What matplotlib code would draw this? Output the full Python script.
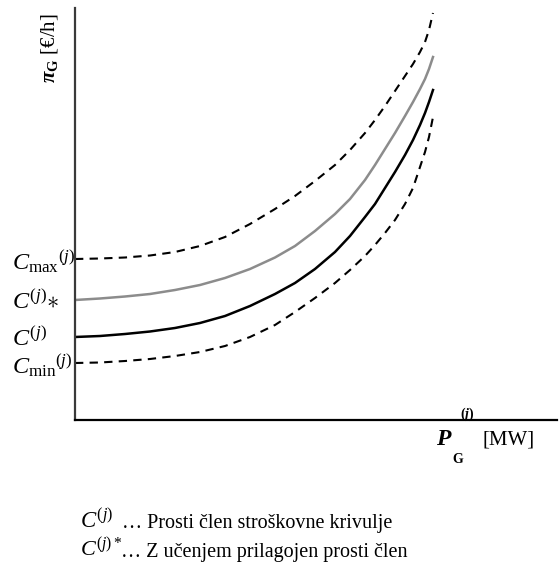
import matplotlib
matplotlib.use("Agg")
import matplotlib.pyplot as plt

plt.rcParams['font.family'] = ['Liberation Serif', 'DejaVu Serif']
plt.rcParams['mathtext.fontset'] = 'custom'
plt.rcParams['mathtext.rm'] = 'Liberation Serif'
plt.rcParams['mathtext.it'] = 'Liberation Serif:italic'
plt.rcParams['mathtext.bf'] = 'Liberation Serif:bold'
plt.rcParams['mathtext.bfit'] = 'Liberation Serif:bold:italic'

# moc (relativne enote) in stroski, odcitano s slike
moc = [0, 25, 50, 75, 100, 125, 150, 175, 200, 220, 240, 260, 275, 290,
       300, 310, 320, 330, 338, 345, 350, 354, 358]
c_max = [161, 161.5, 162.5, 164.5, 168, 174, 183, 196, 211, 224, 239, 255, 270, 287,
         300, 314, 329, 344, 356, 368, 378, 390, 407]
c_zvezda = [120, 121.5, 123.5, 126, 130, 135, 142, 151, 162.5, 174, 189, 206, 221, 240,
            255, 271, 287, 304, 318, 331, 341, 351, 363]
c_osnovni = [83, 84, 86, 88.5, 92, 97, 104, 114, 126, 137, 151, 168, 184, 203,
             216, 232, 248, 265, 280, 295, 307, 318, 330]
c_min = [57, 57.5, 59, 61, 64, 68, 74, 83, 95, 108, 122, 137, 150, 164,
         175, 187, 200, 216, 232, 253, 268, 283, 303]

oznake_y = [r'$C_{\mathrm{max}}{}^{(j)}$', r'$C^{(j)}\!\ast$', r'$C^{(j)}$', r'$C_{\mathrm{min}}{}^{(j)}$']
vrednosti_y = [c_max[0], c_zvezda[0], c_osnovni[0], c_min[0]]

fig = plt.figure(figsize=(5.6, 5.62), dpi=100)
ax = fig.add_axes([75/560, 142/562, 482/560, 412/562])

ax.plot(moc, c_max, color='black', lw=1.5, dashes=(4, 3))
ax.plot(moc, c_zvezda, color='#8c8c8c', lw=1.8)
ax.plot(moc, c_osnovni, color='black', lw=1.8)
ax.plot(moc, c_min, color='black', lw=1.5, dashes=(4, 3))

ax.set_xlim(0, 482)
ax.set_ylim(0, 412)
for s in ['top', 'right']:
    ax.spines[s].set_visible(False)
ax.spines['left'].set_color('#3a3a3a')
ax.spines['left'].set_linewidth(1.6)
ax.spines['bottom'].set_color('black')
ax.spines['bottom'].set_linewidth(1.6)

ax.set_xticks([])
ax.set_yticks(vrednosti_y)
ax.set_yticklabels(oznake_y, fontsize=17.5)
ax.tick_params(axis='y', length=0, pad=45)
for t in ax.get_yticklabels():
    t.set_horizontalalignment('left')

def px(x, y):
    return x / 560, 1 - y / 562

fig.text(*px(50, 48), r'$\boldsymbol{\pi}_{\mathbf{G}}$ [€/h]', rotation=90,
         ha='center', va='center', fontsize=15)

# oznaka osi x
fig.text(*px(436, 445), r'$\boldsymbol{P}$', fontsize=17, va='baseline')
fig.text(*px(452, 463), 'G', fontsize=10, fontweight='bold', va='baseline')
fig.text(*px(460, 418), r'$\boldsymbol{(j)}$', fontsize=10, va='baseline')
fig.text(*px(482, 445), '[MW]', fontsize=15, va='baseline')

# legenda spodaj
fig.text(*px(80, 528), r'$C^{(j)}$', fontsize=16.5, va='baseline')
fig.text(*px(122, 528), '… Prosti člen stroškovne krivulje', fontsize=14.5, va='baseline')
fig.text(*px(80, 557), r'$C^{(j)*}$', fontsize=16, va='baseline')
fig.text(*px(121, 557), '… Z učenjem prilagojen prosti člen', fontsize=14.5, va='baseline')

plt.savefig("out.png", dpi=100)
